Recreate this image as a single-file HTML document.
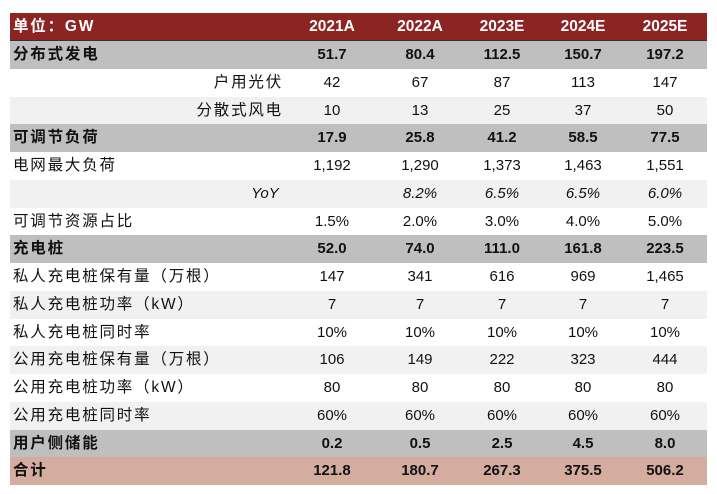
<!DOCTYPE html>
<html><head><meta charset="utf-8">
<style>
body{margin:0;background:#fff;width:717px;height:494px;overflow:hidden;position:relative;font-family:"Liberation Sans","Noto Sans CJK SC",sans-serif;font-size:15px;color:#111}
.row{position:absolute;left:10px;width:697px;height:27.75px}
.c{position:absolute;top:0;line-height:27.75px;text-align:center;width:80px;margin-left:-40px}
.l{position:absolute;top:0;line-height:27.75px;left:3px;letter-spacing:1.8px;font-size:15.5px}
.r{position:absolute;top:0;line-height:27.75px;right:424px;letter-spacing:1.8px;font-size:15.5px}
.b{font-weight:bold}
</style></head><body>
<div id="t"></div>
<script>
const cols=[332,420,502,583,665];
const headers=["2021A","2022A","2023E","2024E","2025E"];
const labels=["分布式发电","户用光伏","分散式风电","可调节负荷","电网最大负荷","YoY","可调节资源占比","充电桩","私人充电桩保有量（万根）","私人充电桩功率（kW）","私人充电桩同时率","公用充电桩保有量（万根）","公用充电桩功率（kW）","公用充电桩同时率","用户侧储能","合计"];
const kinds=["g","wr","lr","g","w","ly","w","g","w","l","w","l","w","l","g","t"];
const values=[
["51.7","80.4","112.5","150.7","197.2"],
["42","67","87","113","147"],
["10","13","25","37","50"],
["17.9","25.8","41.2","58.5","77.5"],
["1,192","1,290","1,373","1,463","1,551"],
["","8.2%","6.5%","6.5%","6.0%"],
["1.5%","2.0%","3.0%","4.0%","5.0%"],
["52.0","74.0","111.0","161.8","223.5"],
["147","341","616","969","1,465"],
["7","7","7","7","7"],
["10%","10%","10%","10%","10%"],
["106","149","222","323","444"],
["80","80","80","80","80"],
["60%","60%","60%","60%","60%"],
["0.2","0.5","2.5","4.5","8.0"],
["121.8","180.7","267.3","375.5","506.2"]];
const t=document.getElementById('t');
const bg={g:"#bfbfbf",w:"#ffffff",l:"#f1f1f1",t:"#d5ada0",h:"#8c2424"};
function mk(cls,txt,x){const d=document.createElement('div');d.className=cls;d.textContent=txt;if(x!==undefined)d.style.left=(x-10)+'px';return d;}
const h=document.createElement('div');h.className='row b';h.style.top='13px';h.style.height='28px';h.style.background=bg.h;h.style.color='#fff';h.style.borderBottom='1px solid #333';h.style.boxSizing='border-box';


const hl=mk('l','单位：GW');


h.appendChild(hl);
headers.forEach((s,i)=>{const c=mk('c',s,cols[i]);c.style.fontSize='15.5px';


h.appendChild(c);});
t.appendChild(h);
labels.forEach((lab,r)=>{
 const k=kinds[r];const row=document.createElement('div');row.className='row';
 row.style.top=(41+r*27.75)+'px';row.style.background=bg[k[0]];
 if(k==='g'||k==='t')row.classList.add('b');
 
 
 let ld;
 if(k.length>1&&k[1]==='r'){ld=mk('r',lab);}
 else if(k==='ly'){ld=mk('c',lab,265);ld.style.fontStyle='italic';}
 else ld=mk('l',lab);
 
 
 row.appendChild(ld);
 values[r].forEach((v,i)=>{const c=mk('c',v,cols[i]);if(k==='ly')c.style.fontStyle='italic';
  
  
  row.appendChild(c);});
 t.appendChild(row);
});
</script>
</body></html>
